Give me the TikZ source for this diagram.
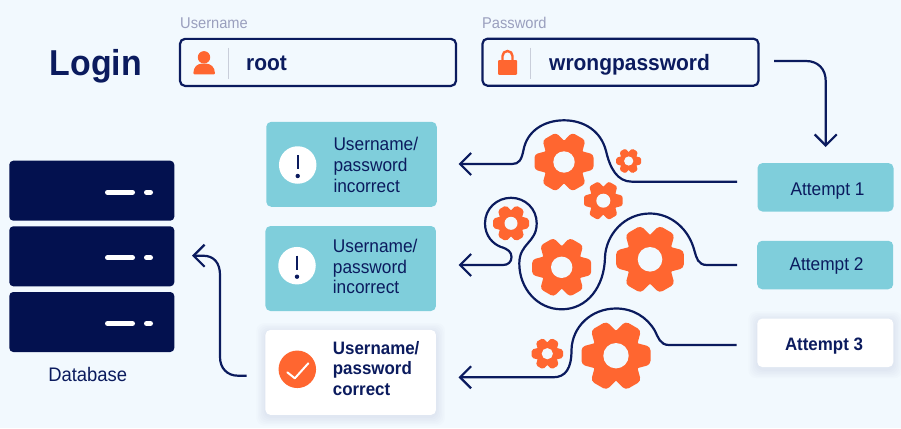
\documentclass[tikz,border=0pt]{standalone}
\usepackage{fontspec}
\setmainfont[FakeStretch=0.94]{Liberation Sans}
\usetikzlibrary{arrows.meta}
\definecolor{bgcol}{HTML}{F2F9FE}
\definecolor{navy}{HTML}{0B1B5E}
\definecolor{dbcol}{HTML}{03114F}
\definecolor{tealcol}{HTML}{7FCEDB}
\definecolor{gearcol}{HTML}{FF6630}
\definecolor{labelcol}{HTML}{9A9FBE}
\definecolor{divcol}{HTML}{C9CEDA}
\tikzset{
  wire/.style={draw=navy,line width=2.2pt,-{Straight Barb[length=11pt,width=22pt,line width=2.2pt]}},
  field/.style={draw=navy,line width=2.2pt,rounded corners=5pt,minimum width=276pt,minimum height=47pt,inner sep=0pt},
  msgbox/.style={fill=tealcol,rounded corners=5pt,minimum width=170.5pt,minimum height=85pt,inner sep=0pt},
  okbox/.style={msgbox,fill=white},
  attbox/.style={fill=tealcol,rounded corners=5pt,minimum width=136pt,minimum height=48.5pt,inner sep=0pt},
  attok/.style={attbox,fill=white},
  rack/.style={fill=dbcol,rounded corners=4pt,minimum width=165pt,minimum height=60pt,inner sep=0pt},
  msgtext/.style={anchor=west,align=left,text=navy,inner sep=0pt,font=\fontsize{18.4}{20.8}\selectfont},
  boldtext/.style={msgtext,font=\fontsize{18}{20.8}\selectfont\bfseries},
  atttext/.style={anchor=base,text=navy,inner sep=0pt,font=\fontsize{18.4}{20}\selectfont},
  fieldtext/.style={anchor=base west,text=navy,inner sep=0pt,font=\fontsize{22.3}{24}\selectfont\bfseries},
  smalllabel/.style={anchor=base west,text=labelcol,inner sep=0pt,font=\fontsize{15.6}{16}\selectfont},
  badge/.style={circle,fill=white,minimum size=37.5pt,inner sep=0pt}
}
\newcommand{\gearat}[4]{%
  \begin{scope}[shift={(#1,#2)}]
    \fill[gearcol] (0,0) circle[radius=0.74*#3];
    \foreach \a in {0,60,...,300}{
      \fill[gearcol,rotate=\a,rounded corners={0.11*#3 pt}]
        (0.55*#3,-0.38*#3) -- (#3,-0.26*#3) -- (#3,0.26*#3) -- (0.55*#3,0.38*#3) -- cycle;
    }
    \fill[bgcol] (0,0) circle[radius=#4];
  \end{scope}}
\newcommand{\softshadow}[4]{%
  \foreach \g in {9,7.5,6,4.5,3,1.5}{
    \fill[navy,opacity=0.012,rounded corners=8pt]
      (#1-\g,#2-\g+2) rectangle (#3+\g,#4+\g+2);
  }}
\begin{document}
\begin{tikzpicture}[x=1pt,y=-1pt]
\fill[bgcol] (0,0) rectangle (901,428);
\useasboundingbox (0,0) rectangle (901,428);

% title and fields
\node[anchor=base,inner sep=0pt,text=navy,font=\fontsize{36}{38}\selectfont\bfseries] (login) at (96,75) {Login};
\node[smalllabel] (ulabel) at (180,28.3) {Username};
\node[smalllabel] (plabel) at (482,28.3) {Password};
\node[field] (ufield) at (318,62.4) {};
\node[field] (pfield) at (620.5,62.2) {};
\draw[divcol,line width=1pt] (228,47.7) -- (228,79.3);
\draw[divcol,line width=1pt] (530,47.7) -- (530,79.3);
\fill[gearcol] (204,57.3) circle[radius=6.2];
\fill[gearcol,rounded corners=1pt] (193.3,74.3) .. controls (193.5,67) and (197,63.5) .. (204,63.5) .. controls (211,63.5) and (214.8,67) .. (215,74.3) -- cycle;
\fill[gearcol,rounded corners=1pt] (498,60) rectangle (517,74.8);
\draw[gearcol,line width=2.4pt] (502.5,61) -- (502.5,56) arc[start angle=180,end angle=0,x radius=5,y radius=-5] -- (512.5,61);
\node[fieldtext] (root) at (246,70.7) {root};
\node[fieldtext] (wrong) at (549,70.3) {wrongpassword};

% database
\node[rack] (r1) at (91.8,190.7) {};
\node[rack] (r2) at (91.8,256.3) {};
\node[rack] (r3) at (91.8,322) {};
\foreach \r in {r1,r2,r3}{
  \draw[white,line width=5pt,line cap=round] ([shift={(15.7,1.5)}]\r.center) -- ([shift={(40.7,1.5)}]\r.center);
  \draw[white,line width=5pt,line cap=round] ([shift={(54.7,1.5)}]\r.center) -- ([shift={(58.7,1.5)}]\r.center);
}
\node[anchor=base,inner sep=0pt,text=navy,font=\fontsize{19.6}{20}\selectfont] (db) at (87.7,381.7) {Database};

% messages
\node[msgbox] (m1) at (351.5,164.3) {};
\node[msgbox] (m2) at (350.7,268.5) {};
\softshadow{265.3}{330}{436}{414.7}
\node[okbox] (m3) at (350.7,372.4) {};
\node[badge] (b1) at (297.7,165) {};
\node[badge] (b2) at (297,265.7) {};
\node[badge,fill=gearcol] (b3) at (297.3,369.3) {};
\foreach \b in {b1,b2}{
  \draw[navy,line width=1.7pt] ([shift={(0,-10)}]\b.center) -- ([shift={(0,4)}]\b.center);
  \fill[navy] ([shift={(0,11)}]\b.center) circle[radius=2.2];
}
\draw[white,line width=2pt,line cap=round,line join=round] ([shift={(-10,3)}]b3.center) -- ([shift={(-2.5,9)}]b3.center) -- ([shift={(11,-6)}]b3.center);
\node[msgtext] (t1) at (333.3,165) {Username/\\password\\incorrect};
\node[msgtext] (t2) at (332.7,266.5) {Username/\\password\\incorrect};
\node[boldtext] (t3) at (332.7,368.5) {Username/\\password\\correct};

% attempts
\node[attbox] (a1) at (825.5,187.3) {};
\node[attbox] (a2) at (825.2,265) {};
\softshadow{757.3}{318.3}{893.3}{367.3}
\node[attok] (a3) at (825.3,342.8) {};
\node[atttext] (at1) at (827.5,195) {Attempt 1};
\node[atttext] (at2) at (826.5,270) {Attempt 2};
\node[atttext,font=\fontsize{18}{20}\selectfont\bfseries] (at3) at (824,350.5) {Attempt 3};

% gears
\gearat{564}{162}{29.5}{10.7}
\gearat{628.7}{161}{12.5}{4.6}
\gearat{603.3}{200.7}{19.3}{7}
\gearat{511}{223.3}{18}{6.5}
\gearat{561.7}{267.3}{29.5}{10.7}
\gearat{650}{259.3}{33.8}{12.3}
\gearat{616}{355.7}{34.5}{12.7}
\gearat{547.3}{353.7}{15.7}{5.6}

% connectors
\coordinate (w1s) at (737,181.7);
\coordinate (w1e) at (458.5,164);
\coordinate (w2s) at (737,265);
\coordinate (w2e) at (458.5,265);
\coordinate (w3s) at (736.7,345);
\coordinate (w3e) at (458.5,377.3);
\coordinate (topS) at (774,61);
\coordinate (topE) at (825.7,147);
\coordinate (dbS) at (246.7,375.7);
\coordinate (dbE) at (192,255.7);

\path[wire] (w1s) -- (632,181.7)
  .. controls (617,181.7) and (610,168) .. (606,151)
  .. controls (601,131) and (584,120.3) .. (564,120.3)
  .. controls (544,120.3) and (527,131) .. (523.5,150)
  .. controls (521.5,160) and (519,164) .. (512,164) -- (w1e);

\path[wire] (w2s) -- (707,265)
  .. controls (698,265) and (696.5,258) .. (694.5,251)
  .. controls (689,229) and (671,213.5) .. (650,213.5)
  .. controls (624,213.5) and (606,235) .. (605,257)
  .. controls (604.5,287) and (587,309.3) .. (561.7,309.3)
  .. controls (537,309.3) and (519.3,288) .. (519.3,263.5)
  .. controls (519.3,243) and (536.7,243) .. (536.7,223.3)
  .. controls (536.7,208.5) and (525,197.8) .. (511,197.8)
  .. controls (497,197.8) and (485,208.5) .. (485,223.3)
  .. controls (485,236) and (493,244) .. (501,247)
  .. controls (508,249) and (511.5,252) .. (511.5,257)
  .. controls (511.5,262) and (508,265) .. (503,265) -- (w2e);

\path[wire] (w3s) -- (669,345)
  .. controls (660,345) and (658,337) .. (655,331)
  .. controls (647,317) and (633,308.5) .. (616,308.5)
  .. controls (591,308.5) and (572,327) .. (571.5,350)
  .. controls (571.5,368) and (566,377.3) .. (553,377.3) -- (w3e);

\path[wire] (topS) -- (806,61) .. controls (818,61) and (825.7,69) .. (825.7,81) -- (topE);
\path[wire] (dbS) -- (238,375.7) .. controls (227,375.7) and (220,368) .. (220,357) -- (220,275) .. controls (220,263) and (214,255.7) .. (203,255.7) -- (dbE);
\end{tikzpicture}
\end{document}
